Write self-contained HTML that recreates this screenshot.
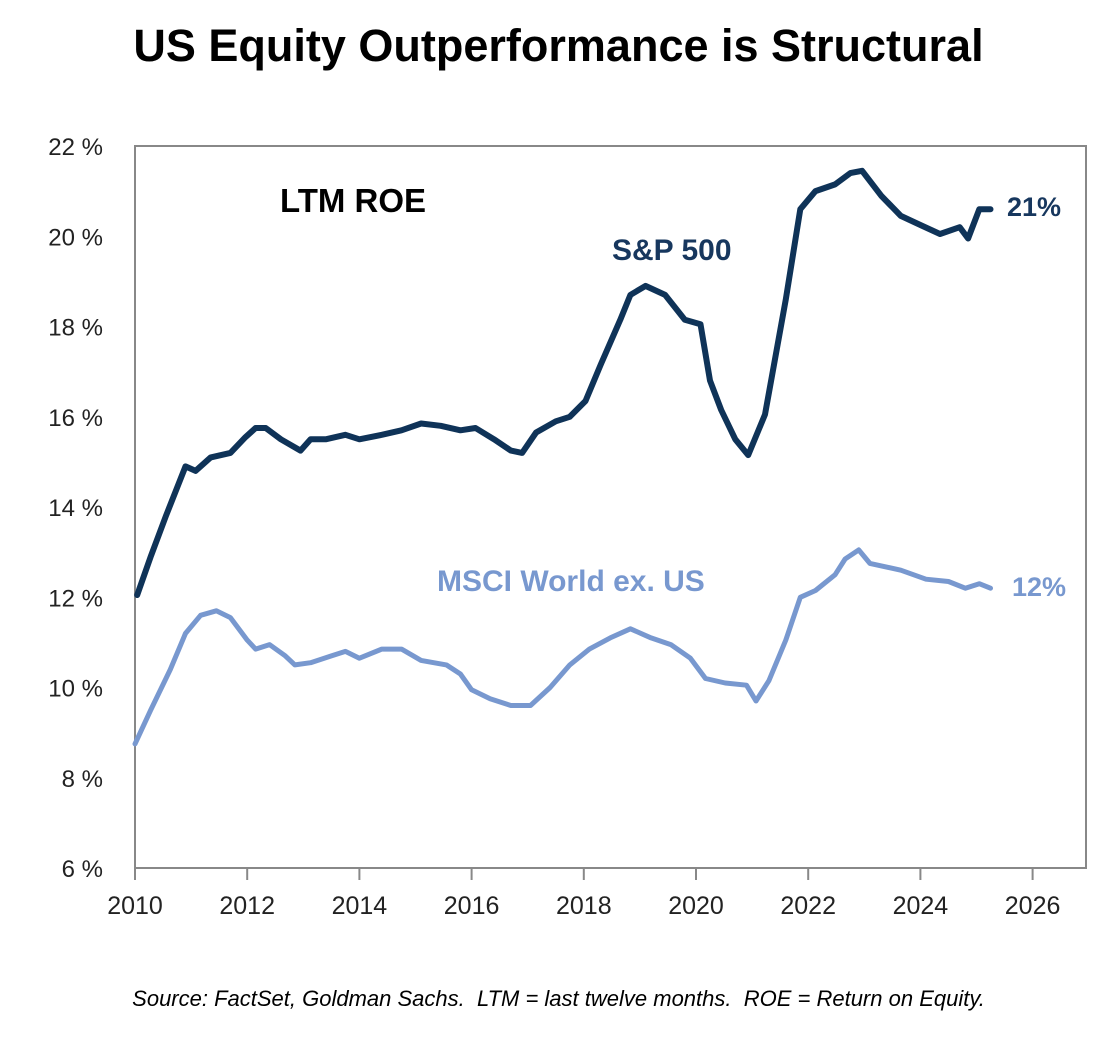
<!DOCTYPE html>
<html><head><meta charset="utf-8"><style>
html,body{margin:0;padding:0;background:#fff;}
body{width:1117px;height:1045px;position:relative;overflow:hidden;font-family:"Liberation Sans",sans-serif;}
</style></head><body>
<div style="position:absolute;left:0;top:20px;width:1117px;text-align:center;font-weight:bold;font-size:45px;color:#000;">US Equity Outperformance is Structural</div>
<svg id="chart" width="1117" height="1045" style="position:absolute;left:0;top:0"></svg>
<div style="position:absolute;left:0;top:986px;width:1117px;text-align:center;font-style:italic;font-size:22px;color:#000;">Source: FactSet, Goldman Sachs.&nbsp; LTM = last twelve months.&nbsp; ROE = Return on Equity.</div>
<script>
const yTicks=[6,8,10,12,14,16,18,20,22];
const xTicks=[2010,2012,2014,2016,2018,2020,2022,2024,2026];
const spYears=[2010.04,2010.28,2010.55,2010.9,2011.08,2011.35,2011.7,2011.97,2012.15,2012.33,2012.6,2012.95,2013.13,2013.4,2013.75,2014.0,2014.4,2014.75,2015.1,2015.45,2015.8,2016.07,2016.4,2016.7,2016.9,2017.15,2017.5,2017.75,2018.03,2018.3,2018.65,2018.83,2019.1,2019.45,2019.8,2020.08,2020.25,2020.45,2020.7,2020.93,2021.23,2021.6,2021.86,2022.13,2022.48,2022.75,2022.96,2023.3,2023.65,2024.0,2024.35,2024.7,2024.85,2025.05,2025.25];
const spValues=[12.05,12.9,13.8,14.9,14.8,15.1,15.2,15.55,15.75,15.75,15.5,15.25,15.5,15.5,15.6,15.5,15.6,15.7,15.85,15.8,15.7,15.75,15.5,15.25,15.2,15.65,15.9,16.0,16.35,17.15,18.15,18.7,18.9,18.7,18.15,18.05,16.8,16.15,15.5,15.15,16.05,18.6,20.6,21.0,21.15,21.4,21.45,20.9,20.45,20.25,20.05,20.2,19.95,20.6,20.6];
const msYears=[2010.0,2010.28,2010.63,2010.9,2011.17,2011.45,2011.7,2012.0,2012.15,2012.4,2012.68,2012.85,2013.13,2013.5,2013.75,2014.0,2014.4,2014.75,2015.1,2015.55,2015.8,2016.0,2016.33,2016.7,2017.05,2017.4,2017.75,2018.1,2018.47,2018.83,2019.2,2019.55,2019.9,2020.17,2020.52,2020.9,2021.07,2021.3,2021.6,2021.86,2022.13,2022.48,2022.66,2022.9,2023.1,2023.65,2024.1,2024.5,2024.8,2025.05,2025.25];
const msValues=[8.75,9.5,10.4,11.2,11.6,11.7,11.55,11.05,10.85,10.95,10.7,10.5,10.55,10.7,10.8,10.65,10.85,10.85,10.6,10.5,10.3,9.95,9.75,9.6,9.6,10.0,10.5,10.85,11.1,11.3,11.1,10.95,10.65,10.2,10.1,10.05,9.7,10.15,11.05,12.0,12.15,12.5,12.85,13.05,12.75,12.6,12.4,12.35,12.2,12.3,12.2];
const L=135,R=1086,T=146,B=868;
const xs=y=>L+(y-2010)*56.1;
const ys=v=>B-(v-6)*(B-T)/16;
const NS="http://www.w3.org/2000/svg";
const svg=document.getElementById('chart');
function mk(t,a,txt){const e=document.createElementNS(NS,t);for(const k in a)e.setAttribute(k,a[k]);if(txt!=null)e.textContent=txt;svg.appendChild(e);return e;}
let f=mk('rect',{x:L,y:T,width:R-L,height:B-T,fill:'none',stroke:'#888','stroke-width':2});


yTicks.forEach(v=>{const t=mk('text',{x:103,y:ys(v)+9,'text-anchor':'end','font-size':24,fill:'#222','font-family':'Liberation Sans, sans-serif'},v+' %');

});
xTicks.forEach(y=>{const l=mk('line',{x1:xs(y),x2:xs(y),y1:B,y2:B+12,stroke:'#888','stroke-width':2});


const t=mk('text',{x:xs(y),y:B+46,'text-anchor':'middle','font-size':25,fill:'#222','font-family':'Liberation Sans, sans-serif'},y);

});
function line(xa,va,c,w,n){const d=xa.map((x,i)=>(i?'L':'M')+xs(x).toFixed(1)+' '+ys(va[i]).toFixed(1)).join(' ');
const p=mk('path',{d:d,fill:'none',stroke:c,'stroke-width':w,'stroke-linejoin':'round','stroke-linecap':'round'});

}
line(msYears,msValues,'#7898cf',5,'msci-line');
line(spYears,spValues,'#0f3358',6,'sp500-line');
function lab(x,y,s,c,txt,n){const t=mk('text',{x:x,y:y,'font-size':s,'font-weight':'bold',fill:c,'font-family':'Liberation Sans, sans-serif'},txt);

}
lab(280,212,33,'#000','LTM ROE','panel-label');
lab(612,260,30,'#17375e','S&P 500','sp500-label');
lab(437,591,30,'#7898cf','MSCI World ex. US','msci-label');
lab(1007,216,27,'#17375e','21%','sp500-end-label');
lab(1012,596,27,'#7898cf','12%','msci-end-label');
</script>
</body></html>
